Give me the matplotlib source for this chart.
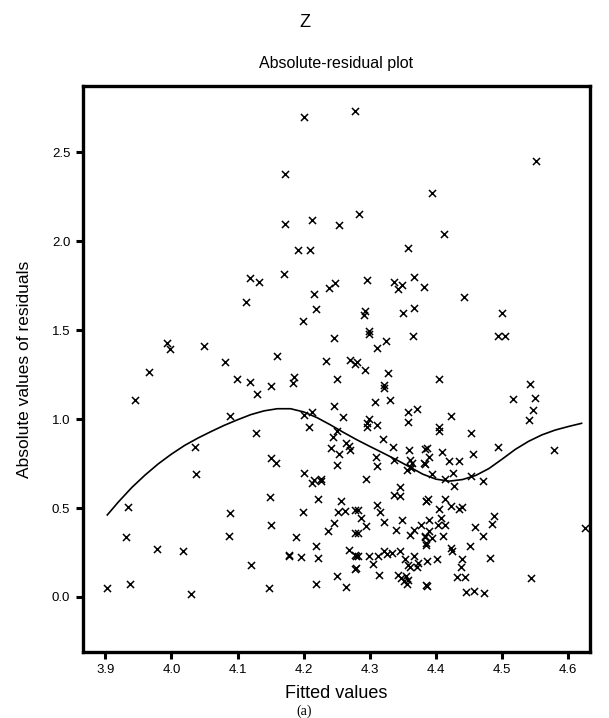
import matplotlib
matplotlib.use("Agg")
import matplotlib.pyplot as plt

plt.rcParams['font.family'] = ['Liberation Sans', 'DejaVu Sans']

# Scatter data (fitted value, absolute residual)
fitted = [
    4.200, 4.278, 4.172, 4.172, 4.213, 4.254, 4.284, 4.191, 4.209, 4.118, 4.133, 4.170,
    4.296, 4.336, 4.113, 4.215, 4.238, 4.247, 4.218, 4.199, 4.293, 4.291, 4.299,
    4.551, 4.394, 4.412, 4.357, 4.349, 4.343, 4.367, 4.382, 4.442, 4.350, 4.367, 4.499,
    3.993, 3.998, 3.966, 3.945, 4.036, 4.037, 3.934, 3.931, 3.978, 4.018, 3.903, 3.937, 4.029,
    4.049, 4.081, 4.159, 4.099, 4.119, 4.129, 4.150, 4.089, 4.128, 4.151, 4.158,
    4.149, 4.088, 4.150, 4.087, 4.177, 4.120, 4.147,
    4.245, 4.233, 4.270, 4.277, 4.185, 4.184, 4.250, 4.246, 4.260, 4.201, 4.213, 4.208,
    4.250, 4.244, 4.241, 4.253, 4.264, 4.269, 4.270, 4.250, 4.201, 4.215, 4.226,
    4.213, 4.226, 4.222, 4.256, 4.199, 4.252, 4.263, 4.277, 4.246, 4.236, 4.189, 4.278,
    4.219, 4.178, 4.196, 4.222, 4.268, 4.277, 4.278, 4.251, 4.264, 4.219,
    4.299, 4.325, 4.310, 4.365, 4.280, 4.293, 4.328, 4.321, 4.322, 4.307, 4.330, 4.357,
    4.371, 4.357, 4.299, 4.296, 4.295, 4.310, 4.320, 4.335, 4.309, 4.311, 4.336, 4.359,
    4.361, 4.363, 4.360, 4.356, 4.362, 4.384, 4.382, 4.294,
    4.346, 4.337, 4.346, 4.385, 4.310, 4.316, 4.282, 4.287, 4.294, 4.321, 4.282, 4.349,
    4.340, 4.360, 4.367, 4.377, 4.383, 4.385, 4.279, 4.282, 4.299, 4.312, 4.322, 4.326,
    4.333, 4.279, 4.304, 4.346, 4.353, 4.357, 4.360, 4.366, 4.371, 4.373, 4.314, 4.343,
    4.347, 4.351, 4.356, 4.358, 4.355, 4.385,
    4.493, 4.504, 4.404, 4.542, 4.516, 4.550, 4.546, 4.540, 4.423, 4.405, 4.404, 4.453,
    4.494, 4.579, 4.386, 4.389, 4.384, 4.409, 4.420, 4.435, 4.456, 4.394, 4.425, 4.413,
    4.453, 4.471,
    4.427, 4.388, 4.385, 4.413, 4.422, 4.435, 4.439, 4.404, 4.390, 4.408, 4.403, 4.413,
    4.390, 4.383, 4.394, 4.385, 4.410, 4.488, 4.485, 4.459, 4.471, 4.451, 4.422, 4.424,
    4.387, 4.401, 4.439, 4.438, 4.431, 4.444, 4.481, 4.543, 4.386, 4.446, 4.457, 4.473,
    4.625,
]
abs_resid = [
    2.695, 2.732, 2.380, 2.096, 2.120, 2.088, 2.152, 1.951, 1.951, 1.790, 1.773, 1.815,
    1.783, 1.770, 1.657, 1.702, 1.738, 1.762, 1.618, 1.552, 1.605, 1.583, 1.493,
    2.451, 2.268, 2.039, 1.962, 1.751, 1.732, 1.798, 1.742, 1.684, 1.597, 1.625, 1.594,
    1.425, 1.393, 1.264, 1.105, 0.843, 0.693, 0.506, 0.339, 0.268, 0.257, 0.049, 0.071, 0.019,
    1.410, 1.320, 1.352, 1.227, 1.208, 1.139, 1.185, 1.017, 0.920, 0.779, 0.755,
    0.562, 0.474, 0.403, 0.343, 0.234, 0.178, 0.052,
    1.455, 1.326, 1.330, 1.311, 1.236, 1.204, 1.223, 1.073, 1.009, 1.024, 1.039, 0.955,
    0.931, 0.901, 0.837, 0.802, 0.867, 0.847, 0.826, 0.740, 0.695, 0.657, 0.663,
    0.640, 0.653, 0.551, 0.541, 0.476, 0.476, 0.485, 0.487, 0.414, 0.369, 0.339, 0.358,
    0.285, 0.232, 0.225, 0.217, 0.266, 0.234, 0.159, 0.116, 0.054, 0.073,
    1.479, 1.438, 1.397, 1.468, 1.318, 1.275, 1.257, 1.191, 1.172, 1.096, 1.105, 1.041,
    1.056, 0.985, 0.998, 0.976, 0.953, 0.966, 0.888, 0.841, 0.785, 0.736, 0.770, 0.826,
    0.770, 0.751, 0.732, 0.713, 0.723, 0.831, 0.751, 0.664,
    0.616, 0.571, 0.566, 0.541, 0.519, 0.478, 0.491, 0.444, 0.397, 0.421, 0.360, 0.431,
    0.375, 0.350, 0.378, 0.403, 0.335, 0.294, 0.229, 0.229, 0.232, 0.229, 0.257, 0.242,
    0.247, 0.163, 0.187, 0.257, 0.213, 0.181, 0.167, 0.229, 0.167, 0.191, 0.122, 0.125,
    0.107, 0.088, 0.073, 0.097, 0.116, 0.066,
    1.466, 1.466, 1.226, 1.197, 1.111, 1.120, 1.049, 0.993, 1.017, 0.953, 0.934, 0.923,
    0.845, 0.826, 0.835, 0.788, 0.746, 0.813, 0.764, 0.764, 0.803, 0.691, 0.695, 0.663,
    0.681, 0.650,
    0.622, 0.552, 0.538, 0.552, 0.514, 0.496, 0.506, 0.494, 0.431, 0.444, 0.406, 0.406,
    0.369, 0.341, 0.331, 0.303, 0.341, 0.453, 0.410, 0.391, 0.344, 0.287, 0.275, 0.260,
    0.200, 0.213, 0.213, 0.167, 0.112, 0.114, 0.217, 0.107, 0.063, 0.026, 0.032, 0.021,
    0.385,
]

# Smoothed curve
curve_x = [3.903, 3.92, 3.94, 3.96, 3.98, 4.00, 4.02, 4.04, 4.06, 4.08, 4.10, 4.12,
           4.14, 4.16, 4.18, 4.20, 4.22, 4.24, 4.26, 4.28, 4.30, 4.32, 4.34, 4.36,
           4.38, 4.40, 4.42, 4.44, 4.46, 4.48, 4.50, 4.52, 4.54, 4.56, 4.58, 4.60, 4.62]
curve_y = [0.461, 0.535, 0.615, 0.685, 0.748, 0.803, 0.852, 0.893, 0.930, 0.965, 0.996, 1.025,
           1.046, 1.058, 1.058, 1.040, 1.008, 0.968, 0.925, 0.884, 0.846, 0.809, 0.771, 0.731,
           0.690, 0.662, 0.651, 0.660, 0.683, 0.722, 0.775, 0.830, 0.875, 0.911, 0.938, 0.958, 0.976]

x_ticks = [3.9, 4.0, 4.1, 4.2, 4.3, 4.4, 4.5, 4.6]
y_ticks = [0.0, 0.5, 1.0, 1.5, 2.0, 2.5]

fig = plt.figure(figsize=(6.09, 7.18), dpi=100)
ax = fig.add_axes([0.136, 0.092, 0.832, 0.788])

ax.scatter(fitted, abs_resid, marker='x', s=26, c='black', linewidths=1.1)
ax.plot(curve_x, curve_y, color='black', lw=1.2)

ax.set_xlim(3.866, 4.632)
ax.set_ylim(-0.309, 2.871)
ax.set_xticks(x_ticks)
ax.set_xticklabels([f"{v:.1f}" for v in x_ticks])
ax.set_yticks(y_ticks)
ax.set_yticklabels([f"{v:.1f}" for v in y_ticks])
ax.tick_params(direction='out', length=5, width=2.2, labelsize=9.5, colors='black', pad=4)
for s in ax.spines.values():
    s.set_linewidth(2.4)
    s.set_color('black')

ax.set_xlabel("Fitted values", fontsize=13, labelpad=6)
ax.set_ylabel("Absolute values of residuals", fontsize=12.5, labelpad=14)
ax.set_title("Absolute-residual plot", fontsize=11.5, pad=13)
fig.text(0.5, 0.969, "Z", ha='center', va='center', fontsize=13)
fig.text(0.5, 0.009, "(a)", ha='center', va='center', fontsize=10,
         family=['Liberation Serif', 'DejaVu Serif'])

fig.savefig("out.png", dpi=100)
